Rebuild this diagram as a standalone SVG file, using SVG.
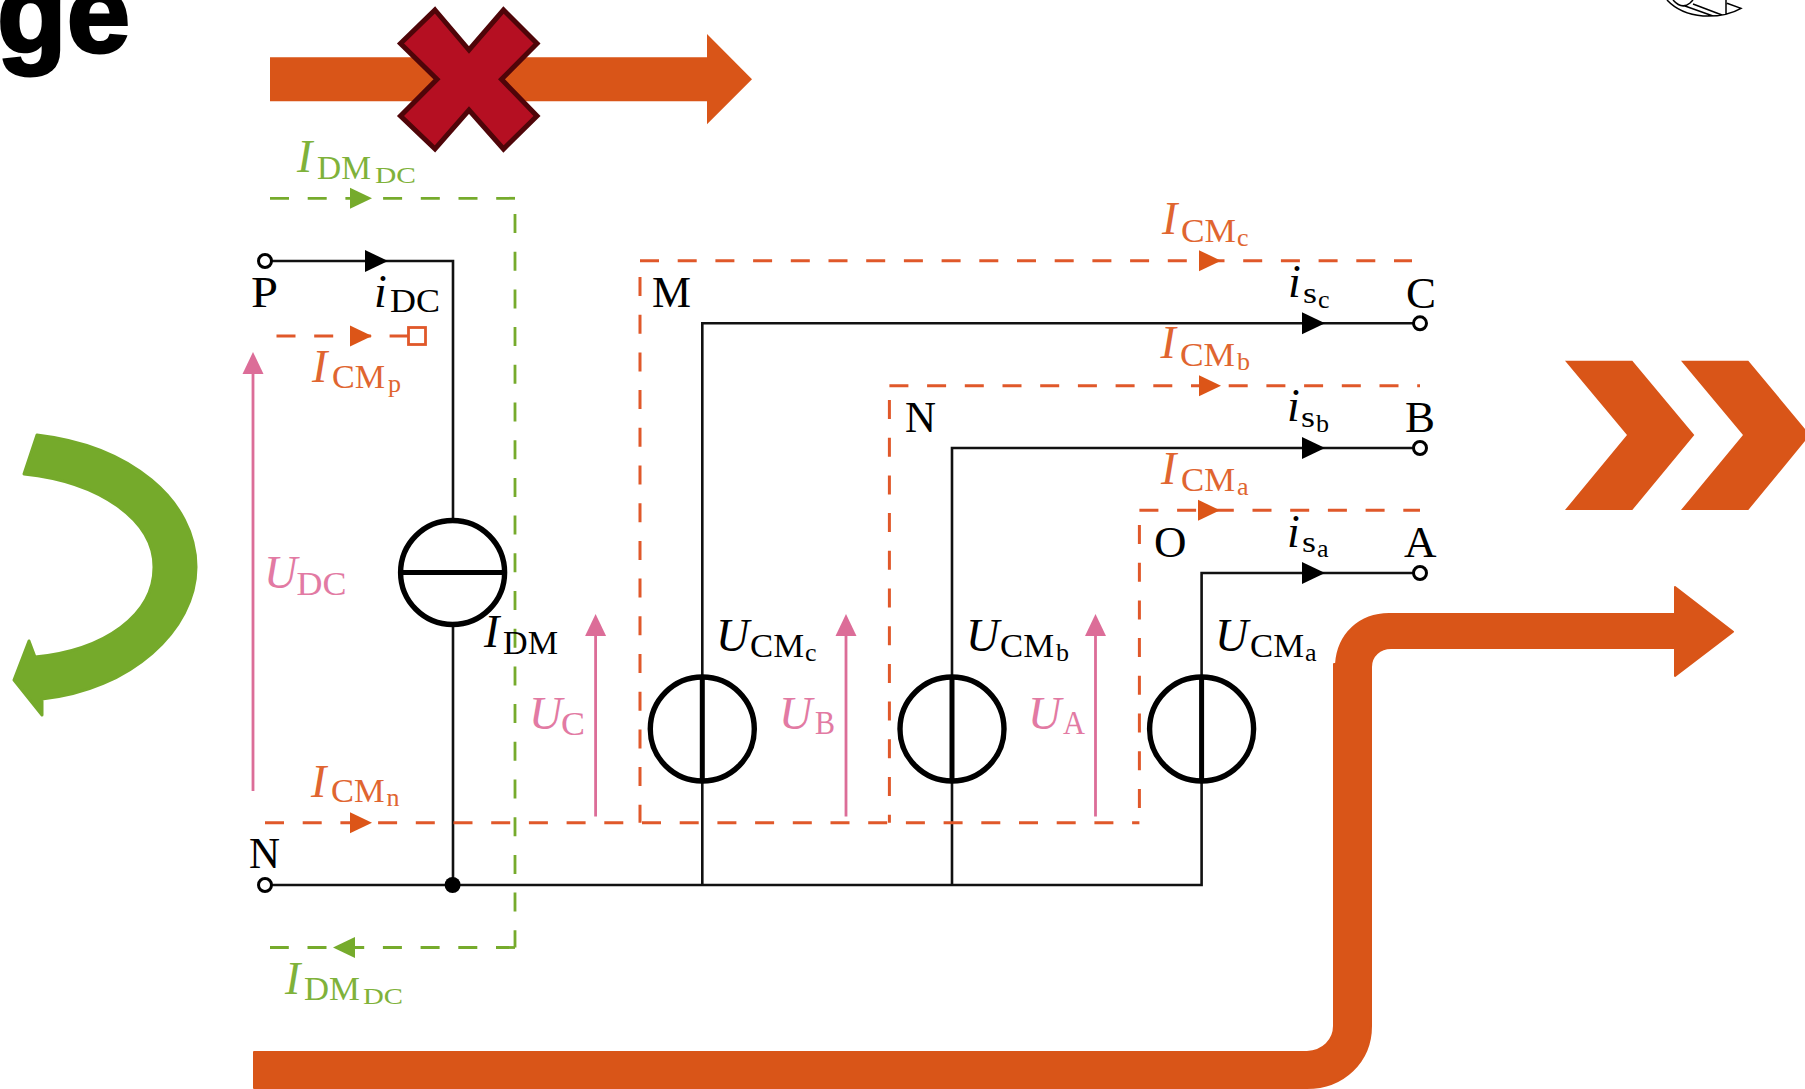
<svg xmlns="http://www.w3.org/2000/svg" width="1805" height="1089" viewBox="0 0 1805 1089">
<style>
.o{fill:#d95518}
.wire{fill:none;stroke:#111;stroke-width:2.6}
.src{fill:none;stroke:#000;stroke-width:5.4}
.bar{stroke:#000;stroke-width:5}
.do{fill:none;stroke:#e0582a;stroke-width:3;stroke-dasharray:19 18.7}
.dg{fill:none;stroke:#76ab2c;stroke-width:2.8;stroke-dasharray:19 18.7}
.pk{stroke:#dc6d98;stroke-width:2.8;fill:none}
text{font-family:"Liberation Serif","Times New Roman",serif}
.tk{fill:#000}.to{fill:#e06530}.tg{fill:#7fb23a}.tp{fill:#e27aa3}
.v{font-style:italic;font-size:46px}
.s{font-size:34px}
.ss{font-size:26px}
.sd{font-size:24px}
.si{font-size:29px}
.l{font-size:45px}
.term{fill:#fff;stroke:#000;stroke-width:3}
</style>
<defs>
<polygon id="ha" points="0,-11 23,0 0,11" fill="#000"/>
<polygon id="ho" points="0,-10.5 22,0 0,10.5" fill="#dc5518"/>
<polygon id="hg" points="0,-10.5 22,0 0,10.5" fill="#76ab2c"/>
<polygon id="hp" points="-10.5,22 0,0 10.5,22" fill="#dc6d98"/>
</defs>

<g id="title"><text x="-3" y="52" font-size="114" font-weight="700" stroke="#000" stroke-width="3" style="font-family:'Liberation Sans',Arial,sans-serif" fill="#000">ge</text></g>

<g id="logo" fill="none" stroke="#000" stroke-width="1.5">
<path d="M1667 0Q1680 14 1703 16Q1726 17 1741 8.3L1727 3.3M1726 0V14M1693 4L1722 15M1685 6L1713 16M1673 0Q1682 10 1690 3L1693 0"/>
</g>

<g id="blocked-arrow">
<path class="o" d="M270 57.3H707V34L752 79.3L707 124.3V101.3H270Z"/>
<path d="M435 10L469 50L503.5 10L537 43.5L501.5 79.3L537 116L503.5 149L469 110L435 149L400.5 116L437 79.3L400.5 43.5Z" fill="#b50f22" stroke="#4f0509" stroke-width="5"/>
</g>

<g id="chevrons">
<path class="o" d="M1565 360.7H1632.3L1694.3 435L1632.3 510H1565L1627 435Z"/>
<path class="o" d="M1681 360.7H1748.3L1810 435L1748.3 510H1681L1743 435Z"/>
</g>

<g id="green-turn-arrow">
<path d="M37 435C130 446 196 500 196 567C196 630 130 690 42 699L42 715L14 680L29 641L35 657C105 650 154 615 154 567C154 520 100 482 24 474Z" fill="#75aa2b" stroke="#75aa2b" stroke-width="3" stroke-linejoin="round"/>
</g>

<g id="route-arrow">
<path class="o" d="M254 1052H1307C1323 1051 1334 1040 1334 1026V943H1371V1026C1371 1062 1343 1088 1307 1088H254Z" stroke="#d95518" stroke-width="2" stroke-linejoin="round"/>
<path class="o" d="M1334 945V664H1336C1338 634 1360 614 1389 614H1675V587L1733 631.7L1675 676V648H1391C1380 648 1371 656 1371 667V945Z" stroke="#d95518" stroke-width="2" stroke-linejoin="round"/>
</g>

<g id="connectors">
<g id="wires" class="wire">
<path d="M265 261H453V520M453 625V885"/>
<path d="M265 885H1201.6V573H1420"/>
<path d="M702.3 885V323.3H1420"/>
<path d="M952 885V448H1420"/>
</g>
<g id="cm-dashes">
<path class="do" d="M640 260.7H1412"/>
<path class="do" d="M640 277V822.7"/>
<path class="do" d="M889.4 385.7H1420"/>
<path class="do" d="M889.4 400V822.7"/>
<path class="do" d="M1139.4 510.3H1420"/>
<path class="do" d="M1139.4 525V822.7"/>
<path class="do" d="M265 822.7H1139.4"/>
<path class="do" d="M276.5 336H408"/>
</g>
<g id="dm-dashes">
<path class="dg" d="M270 198.3H515"/>
<path class="dg" d="M515 214V947.5"/>
<path class="dg" d="M515 947.5H270"/>
</g>
<g id="voltage-arrows" class="pk">
<path d="M253 791V370M595.6 816.5V632M846 816.5V632M1095.5 816.5V632"/>
</g>
<g id="arrowheads">
<use href="#ha" x="365" y="261"/>
<use href="#ha" x="1302" y="323.3"/>
<use href="#ha" x="1302" y="448"/>
<use href="#ha" x="1302" y="573"/>
<use href="#ho" x="350" y="336"/>
<use href="#ho" x="350" y="822.7"/>
<use href="#ho" x="1199" y="260.7"/>
<use href="#ho" x="1199" y="385.7"/>
<use href="#ho" x="1198" y="510.3"/>
<use href="#hg" x="350" y="198.3"/>
<use href="#hg" x="0" y="0" transform="translate(355 947.5) scale(-1 1)"/>
<use href="#hp" x="253" y="352"/>
<use href="#hp" x="595.6" y="614"/>
<use href="#hp" x="846" y="614"/>
<use href="#hp" x="1095.5" y="614"/>
</g>
</g>

<g id="current-source"><circle class="src" cx="452.6" cy="572.5" r="52"/><path class="bar" d="M400 572.5H505"/></g>
<g id="source-c"><circle class="src" cx="702.3" cy="729" r="52"/><path class="bar" d="M702.3 677V781"/></g>
<g id="source-b"><circle class="src" cx="952" cy="729" r="52"/><path class="bar" d="M952 677V781"/></g>
<g id="source-a"><circle class="src" cx="1201.6" cy="729" r="52"/><path class="bar" d="M1201.6 677V781"/></g>

<g id="terminals">
<circle class="term" cx="265" cy="261" r="6.5"/>
<circle class="term" cx="265" cy="885" r="6.5"/>
<circle class="term" cx="1420" cy="323.3" r="6.5"/>
<circle class="term" cx="1420" cy="448" r="6.5"/>
<circle class="term" cx="1420" cy="573" r="6.5"/>
<circle cx="452.6" cy="885" r="8" fill="#000"/>
<rect x="408.5" y="327.5" width="17" height="17" fill="#fff" stroke="#e0582a" stroke-width="2.8"/>
</g>

<g id="labels">
<text class="tk l" x="251" y="306.7" textLength="27" lengthAdjust="spacingAndGlyphs">P</text>
<text class="tk l" x="652" y="306.7" textLength="39" lengthAdjust="spacingAndGlyphs">M</text>
<text class="tk l" x="905" y="432" textLength="31" lengthAdjust="spacingAndGlyphs">N</text>
<text class="tk l" x="1154" y="557">O</text>
<text class="tk l" x="1406" y="308">C</text>
<text class="tk l" x="1405" y="432">B</text>
<text class="tk l" x="1404" y="557">A</text>
<text class="tk l" x="249" y="868" textLength="31" lengthAdjust="spacingAndGlyphs">N</text>

<text class="tk"><tspan class="v" x="374" y="306.7">i</tspan><tspan class="s" x="390" y="311.7" textLength="50" lengthAdjust="spacingAndGlyphs">DC</tspan></text>
<text class="tk"><tspan class="v" x="1288" y="296.7">i</tspan><tspan class="si" x="1303" y="303" textLength="14" lengthAdjust="spacingAndGlyphs">s</tspan><tspan class="ss" x="1318" y="308">c</tspan></text>
<text class="tk"><tspan class="v" x="1287" y="420.7">i</tspan><tspan class="si" x="1301" y="427" textLength="14" lengthAdjust="spacingAndGlyphs">s</tspan><tspan class="ss" x="1316" y="431.7">b</tspan></text>
<text class="tk"><tspan class="v" x="1287" y="546.7">i</tspan><tspan class="si" x="1302" y="551.7" textLength="14" lengthAdjust="spacingAndGlyphs">s</tspan><tspan class="ss" x="1317" y="557">a</tspan></text>
<text class="tk"><tspan class="v" x="484" y="647">I</tspan><tspan class="s" x="503" y="653.5" textLength="55" lengthAdjust="spacingAndGlyphs">DM</tspan></text>

<text class="tk"><tspan class="v" x="716" y="650.7">U</tspan><tspan class="s" x="750" y="656.7" textLength="54" lengthAdjust="spacingAndGlyphs">CM</tspan><tspan class="ss" x="805" y="660.7">c</tspan></text>
<text class="tk"><tspan class="v" x="966" y="650.7">U</tspan><tspan class="s" x="1000" y="656.7" textLength="54" lengthAdjust="spacingAndGlyphs">CM</tspan><tspan class="ss" x="1056" y="660.7">b</tspan></text>
<text class="tk"><tspan class="v" x="1215" y="650.7">U</tspan><tspan class="s" x="1250" y="656.7" textLength="54" lengthAdjust="spacingAndGlyphs">CM</tspan><tspan class="ss" x="1305" y="660.7">a</tspan></text>

<text class="to"><tspan class="v" x="312" y="381.7">I</tspan><tspan class="s" x="332" y="387.7" textLength="53" lengthAdjust="spacingAndGlyphs">CM</tspan><tspan class="ss" x="388" y="391.7">p</tspan></text>
<text class="to"><tspan class="v" x="311" y="796.7">I</tspan><tspan class="s" x="331" y="802" textLength="53.6" lengthAdjust="spacingAndGlyphs">CM</tspan><tspan class="ss" x="386.6" y="806.4">n</tspan></text>
<text class="to"><tspan class="v" x="1162" y="234.3">I</tspan><tspan class="s" x="1181" y="241.7" textLength="55" lengthAdjust="spacingAndGlyphs">CM</tspan><tspan class="ss" x="1237" y="246">c</tspan></text>
<text class="to"><tspan class="v" x="1160.6" y="358">I</tspan><tspan class="s" x="1180" y="366" textLength="55" lengthAdjust="spacingAndGlyphs">CM</tspan><tspan class="ss" x="1237" y="370">b</tspan></text>
<text class="to"><tspan class="v" x="1161" y="484">I</tspan><tspan class="s" x="1181" y="490.7" textLength="54" lengthAdjust="spacingAndGlyphs">CM</tspan><tspan class="ss" x="1237" y="494.7">a</tspan></text>

<text class="tg"><tspan class="v" x="297" y="171.7">I</tspan><tspan class="s" x="317" y="179.3" textLength="54" lengthAdjust="spacingAndGlyphs">DM</tspan><tspan class="sd" x="375" y="182.7" textLength="41" lengthAdjust="spacingAndGlyphs">DC</tspan></text>
<text class="tg"><tspan class="v" x="285" y="994">I</tspan><tspan class="s" x="304" y="999.7" textLength="56" lengthAdjust="spacingAndGlyphs">DM</tspan><tspan class="sd" x="363" y="1004" textLength="40" lengthAdjust="spacingAndGlyphs">DC</tspan></text>

<text class="tp"><tspan class="v" x="264" y="588">U</tspan><tspan class="s" x="296.5" y="594.6" textLength="50" lengthAdjust="spacingAndGlyphs">DC</tspan></text>
<text class="tp"><tspan class="v" x="529" y="728.6">U</tspan><tspan class="s" x="561" y="735" textLength="24" lengthAdjust="spacingAndGlyphs">C</tspan></text>
<text class="tp"><tspan class="v" x="779" y="729">U</tspan><tspan class="s" x="815" y="734" textLength="20" lengthAdjust="spacingAndGlyphs">B</tspan></text>
<text class="tp"><tspan class="v" x="1028" y="729">U</tspan><tspan class="s" x="1063" y="734" textLength="22" lengthAdjust="spacingAndGlyphs">A</tspan></text>
</g>
</svg>
